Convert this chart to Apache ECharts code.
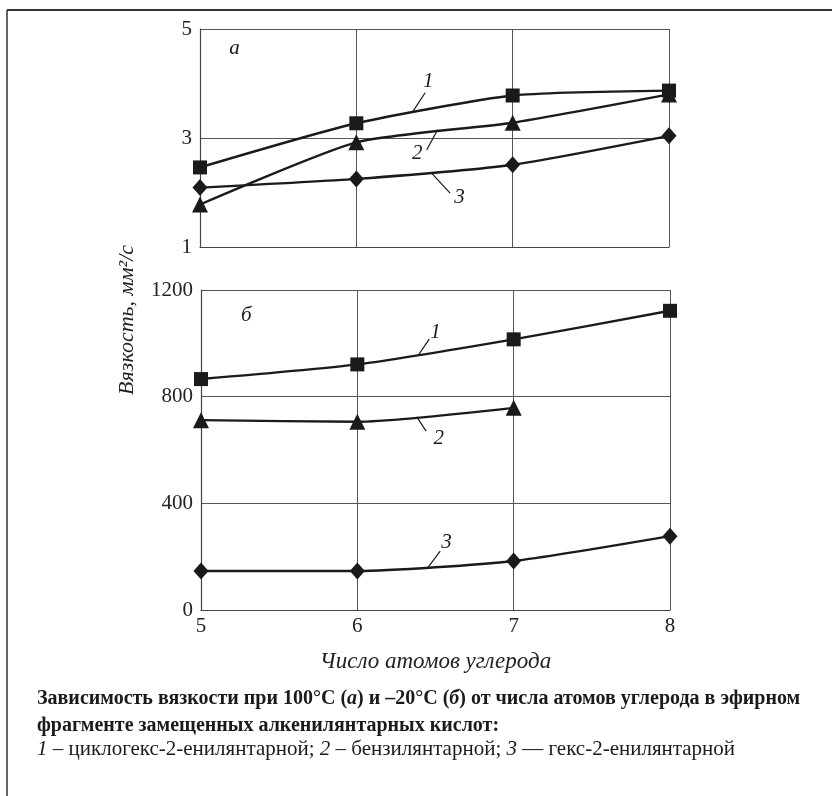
<!DOCTYPE html>
<html>
<head>
<meta charset="utf-8">
<script src="https://cdn.jsdelivr.net/npm/echarts@6/dist/echarts.min.js"></script>
<style>
html, body { margin: 0; background: #fff; }
#chart { width: 832px; height: 796px; }
</style>
</head>
<body>
<div id="chart"></div>
<script>
// число атомов углерода
const carbons = [5, 6, 7, 8];

// а: вязкость при 100 C, мм2/с
const top1 = [2.46, 3.27, 3.78, 3.87];
const top2 = [1.78, 2.92, 3.28, 3.80];
const top3 = [2.09, 2.25, 2.51, 3.04];

// б: вязкость при -20 C
const bot1 = [866, 921, 1015, 1122];
const bot2 = [712, 706, 758, null];
const bot3 = [146, 146, 184, 277];

const topTicks = [1, 3, 5];
const botTicks = [0, 400, 800, 1200];

// curve numbers with their leader lines (data coords)
const notes = [
  { grid: 0, text: '1', at: [6.46, 4.03], line: [[6.36, 3.48], [6.44, 3.83]] },
  { grid: 0, text: '2', at: [6.39, 2.72], line: [[6.52, 3.15], [6.45, 2.78]] },
  { grid: 0, text: '3', at: [6.66, 1.90], line: [[6.48, 2.36], [6.60, 1.99]] },
  { grid: 1, text: '1', at: [6.50, 1039], line: [[6.39, 956], [6.46, 1016]] },
  { grid: 1, text: '2', at: [6.52, 645], line: [[6.38, 724], [6.44, 671]] },
  { grid: 1, text: '3', at: [6.57, 255], line: [[6.45, 158], [6.53, 221]] },
  { grid: 0, text: 'а', at: [5.22, 4.65], line: null },
  { grid: 1, text: 'б', at: [5.29, 1106], line: null }
];

const serif = '"Liberation Serif", "DejaVu Serif", serif';
const ink = '#1a1a1a';

function pairs(ys) {
  return carbons.map((c, i) => [c, ys[i]]);
}

function makeX(gridIndex, showLabels) {
  return {
    type: 'value', gridIndex, min: 5, max: 8, interval: 1,
    axisLine: { show: true, lineStyle: { color: '#444', width: 1.2 } },
    axisTick: { show: false },
    axisLabel: { show: showLabels, fontFamily: serif, fontSize: 21, color: '#222', margin: 6,
      formatter: v => String(v) },
    splitLine: { show: true, lineStyle: { color: '#555', width: 1 } },
    name: showLabels ? 'Число атомов углерода' : '',
    nameLocation: 'middle', nameGap: 40,
    nameTextStyle: { fontFamily: serif, fontStyle: 'italic', fontSize: 23, color: '#222' }
  };
}

function makeY(gridIndex, ticks) {
  return {
    type: 'value', gridIndex,
    min: ticks[0], max: ticks[ticks.length - 1], interval: ticks[1] - ticks[0],
    axisLine: { show: true, lineStyle: { color: '#444', width: 1.2 } },
    axisTick: { show: false },
    axisLabel: { fontFamily: serif, fontSize: 21, color: '#222', margin: 8,
      formatter: v => String(v) },
    splitLine: { show: true, lineStyle: { color: '#555', width: 1 } }
  };
}

const marks = [
  { symbol: 'rect', size: 14 },
  { symbol: 'triangle', size: 16 },
  { symbol: 'diamond', size: [15, 17] }
];

function makeSeries(ys, idx, gridIndex) {
  return {
    type: 'line', xAxisIndex: gridIndex, yAxisIndex: gridIndex,
    data: pairs(ys),
    smooth: 0.2,
    symbol: marks[idx].symbol, symbolSize: marks[idx].size,
    itemStyle: { color: ink },
    lineStyle: { color: ink, width: 2.4 },
    connectNulls: false,
    z: 5
  };
}

const chart = echarts.init(document.getElementById('chart'));

chart.setOption({
  backgroundColor: '#fff',
  animation: false,
  grid: [
    { left: 200, right: 163, top: 29, height: 218 },
    { left: 201, right: 162, top: 290, height: 320 }
  ],
  xAxis: [makeX(0, false), makeX(1, true)],
  yAxis: [makeY(0, topTicks), makeY(1, botTicks)],
  series: [
    makeSeries(top1, 0, 0), makeSeries(top2, 1, 0), makeSeries(top3, 2, 0),
    makeSeries(bot1, 0, 1), makeSeries(bot2, 1, 1), makeSeries(bot3, 2, 1)
  ]
});

function captionLine(y, text, size, bold) {
  return {
    type: 'text', x: 37, y,
    style: {
      text, fontFamily: serif, fontSize: size, fontWeight: bold ? 'bold' : 'normal',
      fill: '#1a1a1a', verticalAlign: 'middle',
      rich: {
        i: { fontFamily: serif, fontSize: size, fontStyle: 'italic', fontWeight: bold ? 'bold' : 'normal' }
      }
    }
  };
}

const graphics = [
  // frame
  { type: 'line', shape: { x1: 7, y1: 10, x2: 832, y2: 10 }, style: { stroke: '#333', lineWidth: 2 } },
  { type: 'line', shape: { x1: 7, y1: 10, x2: 7, y2: 796 }, style: { stroke: '#333', lineWidth: 1.5 } },
  {
    type: 'text', x: 127, y: 320, rotation: Math.PI / 2,
    style: {
      text: 'Вязкость, мм²/с', fontFamily: serif, fontStyle: 'italic', fontSize: 22,
      fill: '#222', align: 'center', verticalAlign: 'middle'
    }
  },
  captionLine(699, 'Зависимость вязкости при 100°C ({i|а}) и –20°C ({i|б}) от числа атомов углерода в эфирном', 20, true),
  captionLine(726, 'фрагменте замещенных алкенилянтарных кислот:', 20, true),
  captionLine(749, '{i|1} – циклогекс-2-енилянтарной; {i|2} – бензилянтарной; {i|3} — гекс-2-енилянтарной', 21, false)
];

notes.forEach(n => {
  const p = chart.convertToPixel({ gridIndex: n.grid }, n.at);
  graphics.push({
    type: 'text', x: p[0], y: p[1], z: 10,
    style: {
      text: n.text, fontFamily: serif, fontStyle: 'italic', fontSize: 21,
      fill: '#1a1a1a', align: 'center', verticalAlign: 'middle'
    }
  });
  if (n.line) {
    const a = chart.convertToPixel({ gridIndex: n.grid }, n.line[0]);
    const b = chart.convertToPixel({ gridIndex: n.grid }, n.line[1]);
    graphics.push({
      type: 'line', z: 10,
      shape: { x1: a[0], y1: a[1], x2: b[0], y2: b[1] },
      style: { stroke: '#1a1a1a', lineWidth: 1.2 }
    });
  }
});

chart.setOption({ graphic: graphics });
</script>
</body>
</html>
